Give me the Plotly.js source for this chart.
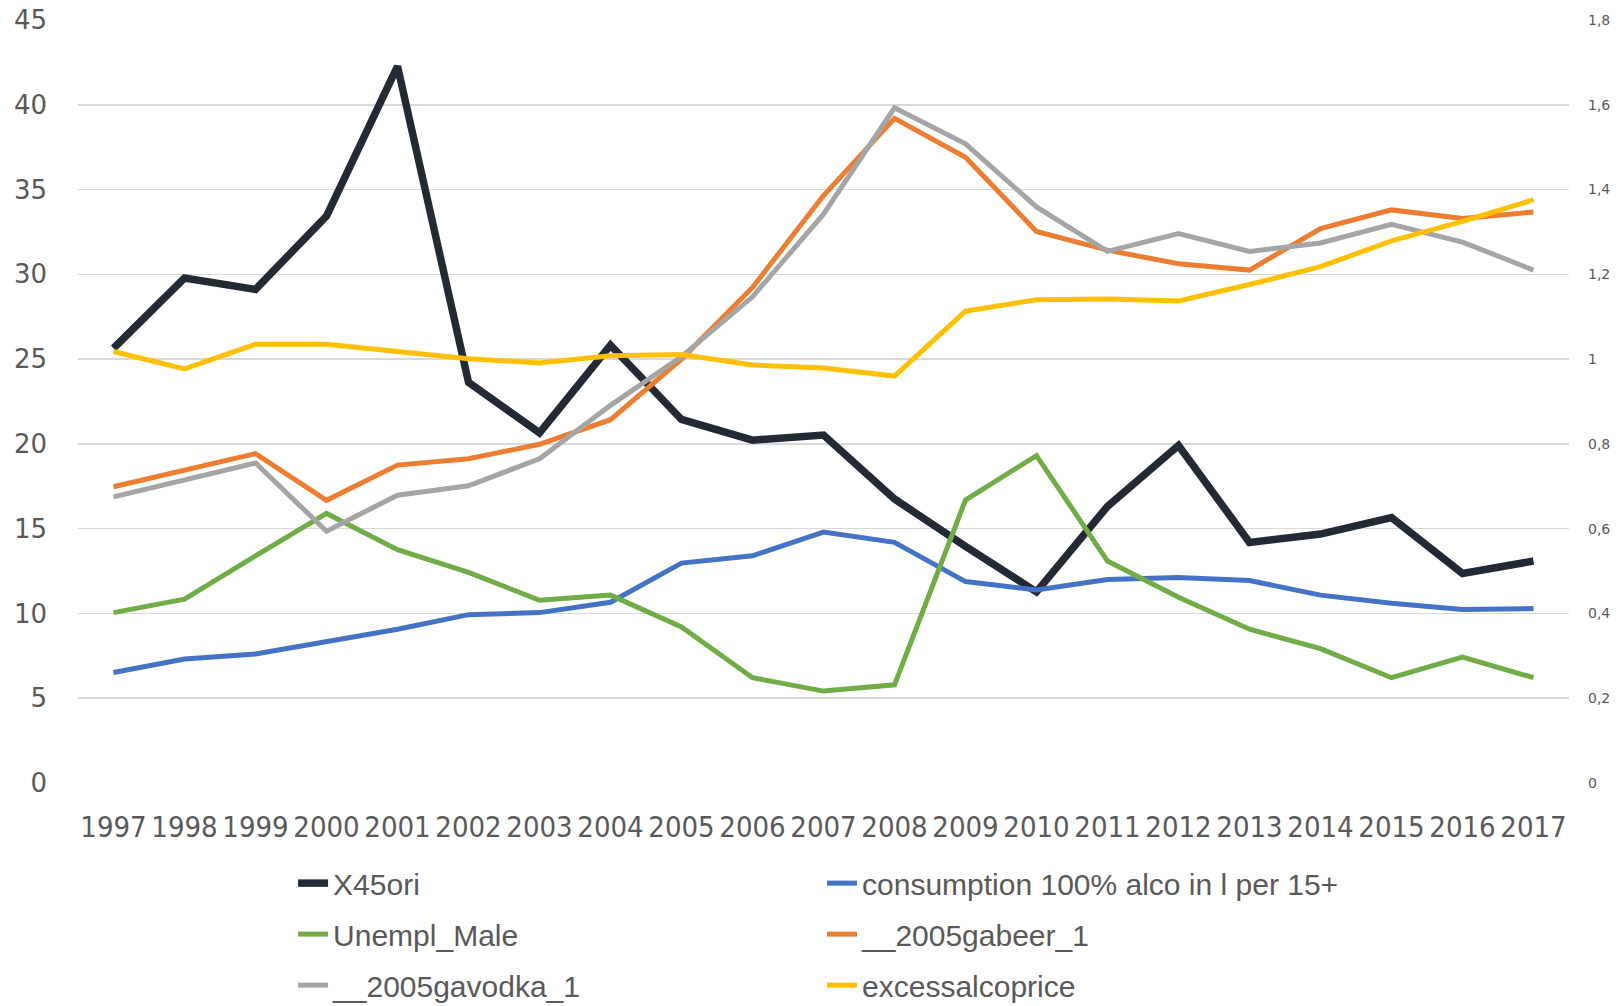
<!DOCTYPE html>
<html>
<head>
<meta charset="utf-8">
<script src="https://cdn.plot.ly/plotly-3.0.1.min.js"></script>
<style>html,body{margin:0;padding:0;background:#fff;}#chart{width:1621px;height:1006px;}</style>
</head>
<body>
<div id="chart"></div>
<script>
const years = ["1997","1998","1999","2000","2001","2002","2003","2004","2005","2006","2007","2008","2009","2010","2011","2012","2013","2014","2015","2016","2017"];

// left axis series
const x45ori = [25.64,29.78,29.11,33.44,42.27,23.63,20.65,25.82,21.44,20.22,20.52,16.75,13.95,11.27,16.32,19.91,14.19,14.68,15.65,12.36,13.09];
const consumption = [6.52,7.31,7.61,8.34,9.07,9.93,10.05,10.66,12.97,13.40,14.80,14.19,11.88,11.39,12.00,12.12,11.94,11.08,10.60,10.23,10.29];
const unemplMale = [10.05,10.84,13.40,15.90,13.76,12.42,10.78,11.08,9.20,6.21,5.42,5.79,16.69,19.31,13.09,10.96,9.07,7.92,6.21,7.43,6.21];

// right axis series
const beer = [0.699,0.738,0.777,0.667,0.750,0.765,0.799,0.857,1.000,1.169,1.386,1.568,1.476,1.301,1.257,1.225,1.210,1.308,1.352,1.332,1.347];
const vodka = [0.675,0.714,0.755,0.594,0.679,0.701,0.765,0.891,1.006,1.147,1.342,1.593,1.508,1.359,1.254,1.296,1.254,1.274,1.318,1.276,1.210];
const excessPrice = [1.018,0.977,1.035,1.035,1.018,1.001,0.991,1.008,1.011,0.986,0.979,0.960,1.113,1.140,1.142,1.137,1.176,1.218,1.279,1.325,1.376];

const leftTicks = [0,5,10,15,20,25,30,35,40,45];
const rightTickVals = [0,0.2,0.4,0.6,0.8,1,1.2,1.4,1.6,1.8];
const rightTickText = ["0","0,2","0,4","0,6","0,8","1","1,2","1,4","1,6","1,8"];

const names = ["X45ori","consumption 100% alco in l per 15+","Unempl_Male","__2005gabeer_1","__2005gavodka_1","excessalcoprice"];

function tr(y, name, color, width, axis, legend, group) {
  return {
    x: years, y: y, name: name, type: "scatter", mode: "lines",
    yaxis: axis, legend: legend, legendgroup: group,
    line: {color: color, width: width, shape: "linear"},
    hoverinfo: "skip"
  };
}

const data = [
  tr(x45ori, names[0], "#222a35", 7.5, "y", "legend", "g1"),
  tr(consumption, names[1], "#4472c4", 5, "y", "legend2", "g2"),
  tr(unemplMale, names[2], "#70ad47", 5, "y", "legend", "g3"),
  tr(beer, names[3], "#ed7d31", 5, "y2", "legend2", "g4"),
  tr(vodka, names[4], "#a5a5a5", 5, "y2", "legend", "g5"),
  tr(excessPrice, names[5], "#ffc000", 5, "y2", "legend2", "g6")
];

const legendFont = {family: "Liberation Sans, Arial, sans-serif", size: 30, color: "#595959"};

const layout = {
  width: 1621, height: 1006,
  paper_bgcolor: "#ffffff", plot_bgcolor: "#ffffff",
  margin: {l: 78, r: 52, t: 20, b: 223, pad: 0, autoexpand: false},
  separators: ",.",
  showlegend: true,
  xaxis: {
    type: "category", range: [-0.5, 20.5],
    tickmode: "array", tickvals: years, ticktext: years, tickangle: 0,
    showgrid: false, zeroline: false, showline: false, ticks: "",
    tickfont: {family: "DejaVu Sans Condensed, Liberation Sans Narrow, sans-serif", size: 29, color: "#595959"},
    ticklabelstandoff: 24, fixedrange: true, automargin: false
  },
  yaxis: {
    range: [0, 45], tickvals: leftTicks, ticktext: leftTicks.map(String),
    showgrid: true, gridcolor: "#d9d9d9", gridwidth: 1.5,
    zeroline: false, showline: false, ticks: "",
    tickfont: {family: "DejaVu Sans, sans-serif", size: 26, color: "#595959"},
    ticklabelstandoff: 30, automargin: false
  },
  yaxis2: {
    range: [0, 1.8], overlaying: "y", side: "right",
    tickvals: rightTickVals, ticktext: rightTickText,
    showgrid: false, zeroline: false, showline: false, ticks: "",
    tickfont: {family: "DejaVu Sans, sans-serif", size: 14, color: "#595959"},
    ticklabelstandoff: 18, automargin: false
  },
  legend: {
    xref: "container", yref: "container", x: 0.1808, y: 0.148,
    xanchor: "left", yanchor: "top", orientation: "v",
    traceorder: "grouped", tracegroupgap: 9,
    font: legendFont, bgcolor: "rgba(0,0,0,0)", borderwidth: 0
  },
  legend2: {
    xref: "container", yref: "container", x: 0.5071, y: 0.148,
    xanchor: "left", yanchor: "top", orientation: "v",
    traceorder: "grouped", tracegroupgap: 9,
    font: legendFont, bgcolor: "rgba(0,0,0,0)", borderwidth: 0
  }
};

Plotly.newPlot("chart", data, layout, {displayModeBar: false, staticPlot: true});
</script>
</body>
</html>
